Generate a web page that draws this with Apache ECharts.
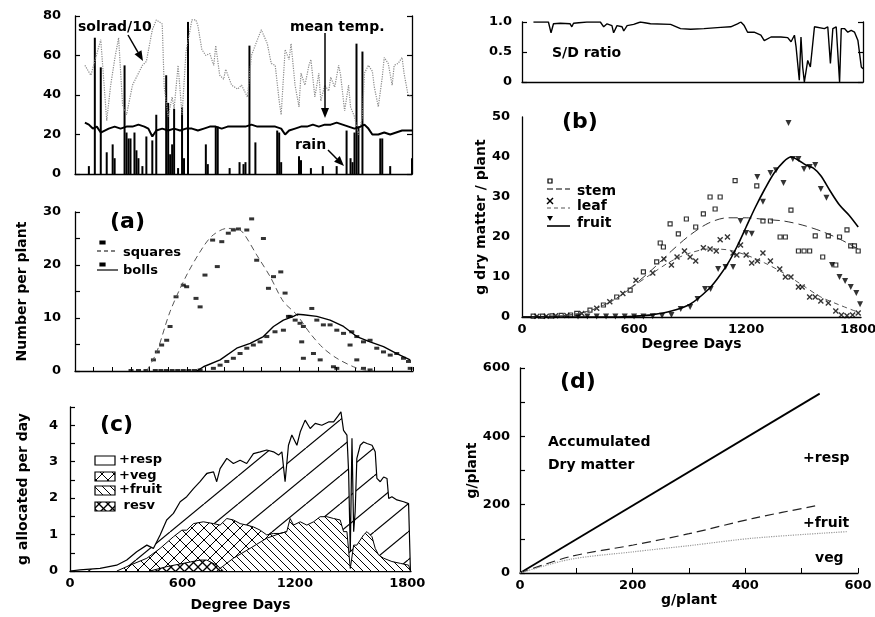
<!DOCTYPE html>
<html><head><meta charset="utf-8">
<script src="https://cdn.jsdelivr.net/npm/echarts@6/dist/echarts.min.js"></script>
<style>html,body{margin:0;padding:0;background:#fff}#c{width:875px;height:617px}</style>
</head><body><div id="c"></div>
<script>
// ---------- weather panel (day of season) ----------
const solradDay = [5,8,13,14,16,18,20,22,24,26,29,31,34,36,39,41,44,45,47,49,50,52,54,56,59,61,62,64,66,68,70,71,73,75,76,79,82,84,87,89,92,94,97,99,101,103,104,106,108,109,111,113,114,116,118,119,121,123,124,126,128,129,131,133,134,136,138,139,141,143,145,146,148,150,151,153,155,156,158,160,161,163,165,166,168,170];
const solradVal = [55,50,68,69,27,45,58,69,35,30,45,49,55,57,73,78,76,44,29,39,33,55,30,62,78,78,75,63,60,61,55,65,50,48,53,45,43,45,39,60,68,73,66,56,55,37,30,63,58,66,45,34,51,45,55,58,39,51,37,45,42,49,44,55,50,32,45,34,29,20,29,51,55,52,44,34,49,59,56,45,55,56,59,51,40,39];
const tempDay = [5,7,9,11,13,15,17,20,23,26,29,32,35,37,39,41,44,47,50,53,56,59,62,65,68,71,74,77,80,83,86,89,92,95,98,101,104,106,108,111,114,117,120,123,126,129,132,135,138,141,144,146,148,150,153,156,159,162,165,168,170];
const tempVal = [26,25,23,24,21,22,23,24,23,24,24,25,24,23,19,22,23,22,23,22,23,23,22,23,24,24,23,24,24,24,24,25,24,24,24,24,23,20,22,23,24,24,25,24,25,25,26,25,24,23,24,25,23,20,20,21,20,21,22,22,22];
const rainDay = [7,10,13,16,19,20,25,26,27,28,30,31,32,34,36,39,41,46,47,48,49,50,52,54,55,57,66,67,71,72,78,83,85,86,88,91,102,103,104,113,114,119,125,132,137,139,140,141,142,143,145,154,155,159,170];
const rainVal = [4,69,54,11,15,8,55,21,18,18,21,12,8,4,19,17,30,50,36,10,15,33,3,34,8,77,15,5,24,24,3,6,5,6,65,16,22,21,6,9,7,3,4,4,22,8,6,21,66,24,62,18,18,4,8];

// ---------- (a) squares and bolls ----------
const sqCurveDD = [384,438,509,598,688,741,813,866,902,973,1045,1116,1188,1259,1330,1402,1491,1545,1600];
const sqCurve   = [0,3.6,11.2,18.1,23.5,25.7,26.9,26.9,26,21.9,17.8,13.1,10.6,7.1,4.3,2.4,0.8,0.2,0];
const bollCurveDD = [652,688,777,866,938,1009,1063,1116,1170,1190,1223,1295,1366,1438,1509,1580,1652,1723,1795];
const bollCurve   = [0,0.8,2.1,4.3,5.2,6.5,8.4,9.6,10.3,10.7,10.6,10.3,9.6,8.4,6.5,5.5,4.6,3.3,2.1];
const sqObsDD = [300,340,380,420,441,464,491,509,541,580,598,648,670,696,737,762,786,821,848,875,920,946,973,1009,1036,1063,1102,1125,1143,1214,1223,1277,1313,1384,1402,1473,1509,1545,1580];
const sqObs   = [0.1,0.1,0.1,2.1,3.6,4.9,5.8,8.4,14,16.2,15.9,13.7,12.1,18.1,24.7,19.7,24.4,26,26.6,26.8,26.6,28.7,20.9,25,15.6,17.8,18.7,14.7,10.3,5.5,2.4,3.3,2.1,0.8,0.5,4.9,2.1,0.5,0.2];
const bollObsDD = [430,460,490,520,550,580,610,640,670,741,777,813,848,884,920,955,991,1027,1071,1116,1152,1179,1205,1223,1268,1295,1330,1366,1402,1438,1482,1509,1545,1580,1616,1652,1688,1723,1759,1786,1795];
const bollObs   = [0.1,0.1,0.1,0.1,0.1,0.1,0.1,0.1,0.2,0.5,1.1,1.8,2.4,3.3,4.3,4.9,5.5,6.5,7.4,7.7,10.3,9.6,9,8.4,11.8,9.6,8.7,8.7,7.7,7.1,7.4,6.5,5.5,5.8,4.3,3.6,3,3.3,2.4,1.8,0.5];

// ---------- (c) daily allocation (cumulative boundaries) ----------
const respDD = [0,53,160,249,303,356,410,445,481,516,552,588,623,659,694,730,766,783,801,837,872,908,943,979,1015,1050,1086,1113,1131,1148,1166,1184,1211,1229,1255,1282,1309,1344,1380,1407,1433,1446,1460,1478,1487,1496,1505,1514,1522,1531,1549,1567,1585,1612,1629,1638,1656,1674,1692,1701,1718,1745,1781,1807,1816,1817];
const respTop = [0,0.03,0.07,0.16,0.3,0.53,0.71,0.62,0.99,1.4,1.58,1.9,2.04,2.26,2.45,2.68,2.72,2.45,2.81,3.09,2.95,3.04,2.95,3.22,3.27,3.32,3.27,3.18,3.27,2.45,3.45,3.73,3.45,3.82,4.14,3.91,4.05,4.0,4.09,4.09,4.27,4.37,3.86,3.73,2.72,0.53,3.64,1.08,1.63,3.09,3.45,3.54,3.5,3.45,3.27,2.54,2.45,2.58,2.54,1.99,2.04,1.95,1.9,1.85,1.85,0];
const vegDD = [250,303,410,481,552,597,623,659,712,766,801,837,872,908,943,979,1015,1050,1086,1121,1157];
const vegTop = [0,0.12,0.35,0.62,0.94,1.12,1.12,1.3,1.35,1.3,1.26,1.44,1.4,1.3,1.26,1.21,1.12,0.99,1.03,1.03,1.08];
const fruitDD = [783,872,961,1050,1121,1157,1175,1193,1229,1264,1300,1335,1371,1407,1442,1460,1478,1496,1514,1531,1567,1585,1612,1629,1647,1674,1718,1763,1807,1816,1817];
const fruitTop = [0,0.35,0.62,0.9,1.03,1.08,1.44,1.26,1.35,1.26,1.35,1.49,1.49,1.44,1.4,1.08,1.08,0.07,0.71,0.71,0.99,1.08,0.94,0.62,0.44,0.35,0.26,0.21,0.16,0.16,0];
const resvDD = [427,516,605,694,730,783,819];
const resvTop = [0,0.12,0.21,0.3,0.3,0.16,0];

// ---------- S/D ratio ----------
const sdDD = [61,141,155,168,204,257,266,275,346,418,436,454,480,489,507,534,543,561,596,632,686,793,846,900,971,1061,1114,1150,1168,1186,1204,1239,1275,1293,1329,1382,1418,1436,1454,1463,1480,1489,1498,1507,1516,1525,1539,1561,1614,1632,1646,1659,1677,1695,1704,1721,1739,1757,1775,1793,1811,1820];
const sdVal = [1,1,0.82,0.97,0.98,0.97,0.92,0.98,1,1,0.92,0.97,0.94,0.82,0.94,0.92,0.85,0.94,0.96,1,0.97,0.96,0.89,0.88,0.89,0.91,0.92,0.97,1,0.94,0.83,0.83,0.78,0.69,0.75,0.75,0.74,0.67,0.78,0.58,0.03,0.75,0.25,0,0,0.36,0.25,0.92,0.89,0.92,0.31,0.89,0.92,0,0.89,0.89,0.83,0.86,0.83,0.69,0.25,0.22];

// ---------- (b) dry matter ----------
const curveDD = [0,200,300,400,500,600,700,800,900,1000,1100,1200,1300,1400,1500,1600,1700,1800];
const stemCurve = [0,0.3,0.8,2.2,4.5,8,12,16.5,20.5,23.5,24.8,24.8,24.4,24,23,21.5,19.5,17];
const leafCurve = [0,0.3,0.8,2.2,4.5,7.8,11,14,16,17,16.8,15.5,13.5,11,8,5,3,1.2];
const fruitCurveDD = [0,500,600,700,800,900,1000,1050,1100,1150,1200,1250,1300,1350,1400,1440,1480,1520,1560,1600,1650,1700,1750,1800];
const fruitCurve = [0,0,0.2,0.6,1.5,3.2,7,9.8,13.2,17.5,22.5,27.5,32,36,38.8,40,39.2,38,37.2,35.3,31.5,28,25.5,22.5];
const stemObsDD = [60,110,160,210,260,293,364,436,507,579,650,721,740,757,793,837,880,930,971,1007,1034,1061,1141,1257,1290,1330,1382,1410,1440,1480,1510,1540,1570,1610,1640,1680,1700,1740,1760,1780,1800,1820];
const stemObs = [0.2,0.2,0.3,0.4,0.5,0.9,1.7,3,5,6.7,11.3,13.8,18.5,17.5,23.3,20.8,24.5,22.5,25.8,30,27,30,34.1,32.8,24,24,20,20,26.7,16.5,16.5,16.5,20.3,15,20.3,13,20,21.8,17.8,17.8,16.5,15];
const leafObsDD = [80,130,180,240,320,400,470,540,610,700,760,800,830,870,900,930,971,1007,1040,1061,1100,1130,1150,1170,1200,1230,1260,1290,1330,1380,1410,1440,1480,1500,1540,1570,1600,1640,1680,1710,1740,1770,1800];
const leafObs = [0.2,0.2,0.3,0.4,0.9,2.2,3.8,5.9,9.2,11,14.5,13,15,16.5,15,14,17.3,17,16.5,19.3,20,16,15.5,18,15.5,13.5,14,16,14,12,10,10,7.5,7.5,5,5,4,3.5,1.5,0.5,0.3,0.5,1];
const fruitObsDD = [300,350,400,450,500,550,600,650,700,750,800,850,900,940,980,1010,1050,1090,1130,1170,1200,1230,1260,1290,1330,1360,1400,1427,1450,1480,1510,1540,1570,1600,1630,1660,1700,1730,1760,1790,1810];
const fruitObs = [0.1,0.1,0.1,0.1,0.1,0.1,0.1,0.1,0.2,0.3,0.5,2,2.5,4.5,7,7,12,12.5,12.5,24,21,20.8,35,28.8,36,36.7,33.5,48.5,39.5,39.5,37,37.5,38,32,29.8,13,10,9,7.5,6,3.2];

// ---------- (d) accumulated dry matter ----------
const dRespX = [0,532];
const dResp = [0,525];
const dFruitX = [0,89,201,300,414,532];
const dFruit = [0,48,82,115,160,199];
const dVegX = [0,89,201,300,414,580];
const dVeg = [0,40,62,80,102,121];

// ---------------- helpers ----------------
const zip = (xs, ys) => xs.map((x, i) => [x, ys[i]]);
const F = 'DejaVu Sans';
function pat(w, h, segs, lw) {
  const c = document.createElement('canvas'); c.width = w; c.height = h;
  const g = c.getContext('2d'); g.fillStyle = '#fff'; g.fillRect(0, 0, w, h);
  g.strokeStyle = '#000'; g.lineWidth = lw || 1;
  segs.forEach(s => { g.beginPath(); g.moveTo(s[0], s[1]); g.lineTo(s[2], s[3]); g.stroke(); });
  return {image: c, repeat: 'repeat'};
}
const pResp = pat(34, 28, [[0,28,34,0],[-34,28,0,0],[34,28,68,0]], 1.2);
const pVeg = pat(12, 12, [[0,0,12,12],[0,12,12,0]], 1);
const pFruit = pat(8, 8, [[0,0,8,8],[-8,0,0,8],[8,0,16,8]], 1);
const pResv = pat(9, 9, [[0,0,9,9],[0,9,9,0]], 1.3);

const axisLine = {lineStyle: {color: '#000', width: 1.3}};
const lab = {color: '#000', fontSize: 13, fontFamily: F, fontWeight: 'bold'};
function xAx(grid, min, max, o) {
  return Object.assign({type: 'value', gridIndex: grid, min, max, axisLine, splitLine: {show: false},
    axisTick: {show: false}, axisLabel: {show: false}}, o || {});
}
function yAx(grid, min, max, interval, o) {
  return Object.assign({type: 'value', gridIndex: grid, min, max, interval, axisLine: Object.assign({show: true}, axisLine),
    splitLine: {show: false}, axisTick: {show: true, inside: true, length: 5, lineStyle: {color: '#000', width: 1.2}},
    axisLabel: lab}, o || {});
}
const nameStyle = {color: '#000', fontSize: 14, fontFamily: F, fontWeight: 'bold'};

function T(x, y, text, size, align) {
  return {type: 'text', x, y, z: 100, style: {text, fill: '#000', font: 'bold ' + (size || 14) + 'px "' + F + '"',
    textAlign: align || 'left', textVerticalAlign: 'middle', align: align || 'left', verticalAlign: 'middle'}};
}
function A(x1, y1, x2, y2) {
  const ang = Math.atan2(y2 - y1, x2 - x1), L = 10, W = 4;
  const bx = x2 - L * Math.cos(ang), by = y2 - L * Math.sin(ang);
  const px = -Math.sin(ang) * W, py = Math.cos(ang) * W;
  return [{type: 'line', z: 100, shape: {x1, y1, x2: bx, y2: by}, style: {stroke: '#000', lineWidth: 1.5}},
    {type: 'polygon', z: 100, shape: {points: [[x2, y2], [bx + px, by + py], [bx - px, by - py]]}, style: {fill: '#000'}}];
}
function L(x1, y1, x2, y2, dash, w, col) {
  return {type: 'line', z: 100, shape: {x1, y1, x2, y2}, style: {stroke: col || '#000', lineWidth: w || 1.2, lineDash: dash || null}};
}
function R(x, y, w, h, fill) {
  return {type: 'rect', z: 100, shape: {x, y, width: w, height: h}, style: {fill, stroke: '#000', lineWidth: 1.2}};
}
function legendBox(x, y, pattern, text) {
  return [R(x, y, 20, 9, pattern), T(x + 24, y + 4, text, 13)];
}

const option = {
  animation: false,
  backgroundColor: '#fff',
  grid: [
    {left: 75, top: 16, width: 337, height: 158, outerBoundsMode: 'none'},
    {left: 75, top: 212, width: 338, height: 159, outerBoundsMode: 'none'},
    {left: 70, top: 407, width: 341, height: 164, outerBoundsMode: 'none'},
    {left: 522, top: 22, width: 341, height: 60, outerBoundsMode: 'none'},
    {left: 522, top: 117, width: 339, height: 200, outerBoundsMode: 'none'},
    {left: 520, top: 368, width: 338, height: 205, outerBoundsMode: 'none'}
  ],
  xAxis: [
    xAx(0, 0, 170),
    xAx(1, 0, 1810, {interval: 100, axisTick: {show: true, inside: true, length: 4, lineStyle: {color: '#000'}}}),
    xAx(2, 0, 1820, {interval: 600, axisLabel: Object.assign({show: true, margin: 6, formatter: v => v % 600 === 0 ? String(v) : ''}, lab),
      name: 'Degree Days', nameLocation: 'middle', nameGap: 27, nameTextStyle: nameStyle}),
    xAx(3, 0, 1820),
    xAx(4, 0, 1815, {interval: 600, axisLabel: Object.assign({show: true, margin: 6, formatter: v => v % 600 === 0 ? String(v) : ''}, lab),
      name: 'Degree Days', nameLocation: 'middle', nameGap: 19, nameTextStyle: nameStyle}),
    xAx(5, 0, 600, {interval: 100, axisTick: {show: true, inside: true, length: 5, lineStyle: {color: '#000'}},
      axisLabel: Object.assign({show: true, margin: 6, formatter: v => v % 200 === 0 ? String(v) : ''}, lab),
      name: 'g/plant', nameLocation: 'middle', nameGap: 17, nameTextStyle: nameStyle})
  ],
  yAxis: [
    yAx(0, 0, 80, 20, {axisLabel: Object.assign({margin: 14}, lab)}),
    yAx(1, 0, 30, 5, {axisLabel: Object.assign({margin: 14, formatter: v => v % 10 === 0 ? String(v) : ''}, lab),
      name: 'Number per plant', nameLocation: 'middle', nameGap: 46, nameTextStyle: nameStyle}),
    yAx(2, 0, 4.5, 0.5, {axisLabel: Object.assign({margin: 12, formatter: v => Number.isInteger(v) ? String(v) : ''}, lab),
      name: 'g allocated per day', nameLocation: 'middle', nameGap: 40, nameTextStyle: nameStyle}),
    yAx(3, 0, 1, 0.5, {axisLabel: Object.assign({margin: 10, formatter: v => v === 0 ? '0' : v.toFixed(1)}, lab)}),
    yAx(4, 0, 50, 10, {axisTick: {show: false}, axisLabel: Object.assign({margin: 12}, lab),
      name: 'g dry matter / plant', nameLocation: 'middle', nameGap: 34, nameTextStyle: nameStyle}),
    yAx(5, 0, 600, 100, {axisLabel: Object.assign({margin: 10, formatter: v => v % 200 === 0 ? String(v) : ''}, lab),
      name: 'g/plant', nameLocation: 'middle', nameGap: 36, nameTextStyle: nameStyle}),
    yAx(0, 0, 80, 20, {position: 'right', axisLabel: {show: false}}),
    yAx(3, 0, 1, 0.5, {position: 'right', axisLabel: {show: false}})
  ],
  series: [
    // weather
    {type: 'line', xAxisIndex: 0, yAxisIndex: 0, data: zip(solradDay, solradVal), showSymbol: false, symbol: 'none',
      lineStyle: {color: '#8a8a8a', width: 1.2, type: 'dotted'}},
    {type: 'bar', xAxisIndex: 0, yAxisIndex: 0, data: zip(rainDay, rainVal), barWidth: 2, itemStyle: {color: '#000'}},
    {type: 'line', xAxisIndex: 0, yAxisIndex: 0, data: zip(tempDay, tempVal), showSymbol: false, symbol: 'none',
      lineStyle: {color: '#000', width: 2}},
    // (a)
    {type: 'line', xAxisIndex: 1, yAxisIndex: 1, data: zip(sqCurveDD, sqCurve), smooth: 0.3, showSymbol: false, symbol: 'none',
      lineStyle: {color: '#555', width: 1, type: [6, 4]}},
    {type: 'line', xAxisIndex: 1, yAxisIndex: 1, data: zip(bollCurveDD, bollCurve), showSymbol: false, symbol: 'none',
      lineStyle: {color: '#000', width: 1.4}},
    {type: 'scatter', xAxisIndex: 1, yAxisIndex: 1, data: zip(sqObsDD, sqObs), symbol: 'rect', symbolSize: [5, 3], itemStyle: {color: '#000'}},
    {type: 'scatter', xAxisIndex: 1, yAxisIndex: 1, data: zip(bollObsDD, bollObs), symbol: 'rect', symbolSize: [5, 3], itemStyle: {color: '#000'}},
    // (c)
    {type: 'line', xAxisIndex: 2, yAxisIndex: 2, data: zip(respDD, respTop), showSymbol: false, symbol: 'none',
      lineStyle: {color: '#000', width: 1.2}, areaStyle: {color: pResp, opacity: 1}},
    {type: 'line', xAxisIndex: 2, yAxisIndex: 2, data: zip(vegDD, vegTop), showSymbol: false, symbol: 'none',
      lineStyle: {color: '#000', width: 1}, areaStyle: {color: pVeg, opacity: 1}},
    {type: 'line', xAxisIndex: 2, yAxisIndex: 2, data: zip(fruitDD, fruitTop), showSymbol: false, symbol: 'none',
      lineStyle: {color: '#000', width: 1}, areaStyle: {color: pFruit, opacity: 1}},
    {type: 'line', xAxisIndex: 2, yAxisIndex: 2, data: zip(resvDD, resvTop), showSymbol: false, symbol: 'none',
      lineStyle: {color: '#000', width: 1}, areaStyle: {color: pResv, opacity: 1}},
    // S/D
    {type: 'line', xAxisIndex: 3, yAxisIndex: 3, data: zip(sdDD, sdVal), showSymbol: false, symbol: 'none',
      lineStyle: {color: '#000', width: 1.4}},
    // (b)
    {type: 'line', xAxisIndex: 4, yAxisIndex: 4, data: zip(curveDD, stemCurve), smooth: 0.3, showSymbol: false, symbol: 'none',
      lineStyle: {color: '#333', width: 1, type: [9, 5]}},
    {type: 'line', xAxisIndex: 4, yAxisIndex: 4, data: zip(curveDD, leafCurve), smooth: 0.3, showSymbol: false, symbol: 'none',
      lineStyle: {color: '#555', width: 1, type: [5, 4]}},
    {type: 'line', xAxisIndex: 4, yAxisIndex: 4, data: zip(fruitCurveDD, fruitCurve), smooth: 0.3, showSymbol: false, symbol: 'none',
      lineStyle: {color: '#000', width: 1.6}},
    {type: 'scatter', xAxisIndex: 4, yAxisIndex: 4, data: zip(stemObsDD, stemObs), symbol: 'rect', symbolSize: 4,
      itemStyle: {color: '#fff', borderColor: '#000', borderWidth: 1.2}},
    {type: 'scatter', xAxisIndex: 4, yAxisIndex: 4, data: zip(leafObsDD, leafObs), symbol: 'path://M0,0L10,10M10,0L0,10', symbolSize: 5,
      itemStyle: {color: 'none', borderColor: '#000', borderWidth: 1.4}},
    {type: 'scatter', xAxisIndex: 4, yAxisIndex: 4, data: zip(fruitObsDD, fruitObs), symbol: 'triangle', symbolRotate: 180, symbolSize: 6,
      itemStyle: {color: '#000'}},
    // (d)
    {type: 'line', xAxisIndex: 5, yAxisIndex: 5, data: zip(dRespX, dResp), showSymbol: false, symbol: 'none',
      lineStyle: {color: '#000', width: 1.8}},
    {type: 'line', xAxisIndex: 5, yAxisIndex: 5, data: zip(dFruitX, dFruit), smooth: 0.3, showSymbol: false, symbol: 'none',
      lineStyle: {color: '#222', width: 1.2, type: [9, 5]}},
    {type: 'line', xAxisIndex: 5, yAxisIndex: 5, data: zip(dVegX, dVeg), smooth: 0.3, showSymbol: false, symbol: 'none',
      lineStyle: {color: '#999', width: 1.2, type: 'dotted'}}
  ],
  graphic: [].concat(
    [T(78, 27, 'solrad/10', 14), T(290, 27, 'mean temp.', 14), T(295, 145, 'rain', 14)],
    A(128, 35, 143, 61), A(325, 33, 325, 118), A(328, 150, 344, 166),
    [T(110, 222, '(a)', 22)],
    [R(100, 241, 5, 3, '#000'), L(97, 251, 118, 251, [4, 3]), T(123, 253, 'squares', 13),
     R(100, 263, 5, 3, '#000'), L(97, 270, 118, 270), T(123, 271, 'bolls', 13)],
    [T(100, 425, '(c)', 22)],
    legendBox(95, 456, pResp, '+resp'), legendBox(95, 472, pVeg, '+veg'),
    legendBox(95, 486, pFruit, '+fruit'), legendBox(95, 502, pResv, ' resv'),
    [T(552, 53, 'S/D ratio', 14)],
    [T(562, 122, '(b)', 22)],
    [{type: 'rect', z: 100, shape: {x: 548, y: 179, width: 4, height: 4}, style: {fill: '#fff', stroke: '#000', lineWidth: 1.2}},
     L(547, 189, 570, 189, [6, 3]), T(577, 191, 'stem', 14),
     L(547, 198, 553, 204, null, 1.4), L(553, 198, 547, 204, null, 1.4),
     L(547, 208, 570, 208, [4, 3], 1, '#555'), T(577, 206, 'leaf', 14),
     {type: 'polygon', z: 100, shape: {points: [[547, 216], [553, 216], [550, 221]]}, style: {fill: '#000'}},
     L(547, 226, 570, 226, null, 1.6), T(577, 223, 'fruit', 14)],
    [T(560, 382, '(d)', 22), T(548, 442, 'Accumulated', 14), T(548, 465, 'Dry matter', 14),
     T(803, 458, '+resp', 14), T(803, 523, '+fruit', 14), T(815, 558, 'veg', 14)]
  )
};
const chart = echarts.init(document.getElementById('c'), null, {renderer: 'canvas'});
chart.setOption(option);
</script></body></html>
